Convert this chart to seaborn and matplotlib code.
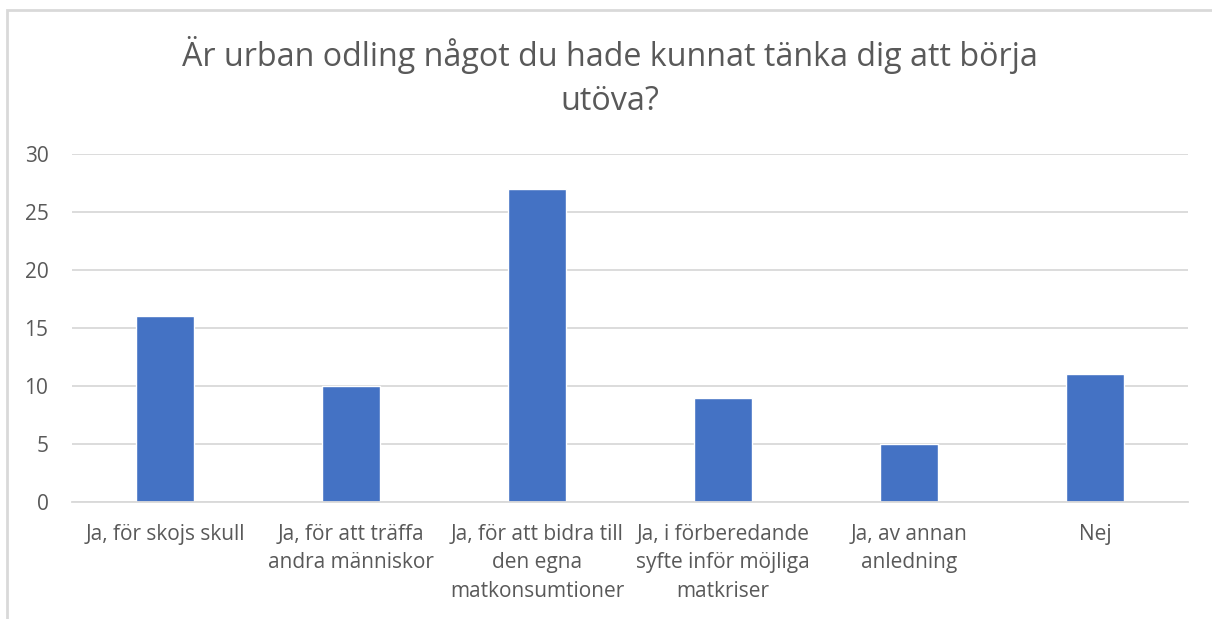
import matplotlib
matplotlib.use("Agg")
import matplotlib.pyplot as plt
import seaborn as sns
import pandas as pd
from matplotlib.patches import Rectangle

categories = [
    "Ja, för skojs skull",
    "Ja, för att träffa\nandra människor",
    "Ja, för att bidra till\nden egna\nmatkonsumtioner",
    "Ja, i förberedande\nsyfte inför möjliga\nmatkriser",
    "Ja, av annan\nanledning",
    "Nej",
]
values = [16, 10, 27, 9, 5, 11]
yticks = [0, 5, 10, 15, 20, 25, 30]
title = "Är urban odling något du hade kunnat tänka dig att börja\nutöva?"

sns.set_theme(style="white")
plt.rcParams["font.family"] = ["Open Sans", "DejaVu Sans"]

df = pd.DataFrame({"cat": categories, "val": values})
fig = plt.figure(figsize=(12.12, 6.19), dpi=100)
ax = fig.add_axes([72 / 1212, 1 - 502 / 619, (1188 - 72) / 1212, (502 - 154) / 619])

sns.barplot(data=df, x="cat", y="val", color="#4472C4", width=0.31, ax=ax, saturation=1)

ax.set_ylim(0, 30)
ax.set_yticks(yticks)
ax.set_xlim(-0.5, len(categories) - 0.5)
ax.yaxis.grid(True, color="#D9D9D9", linewidth=1.3)
ax.set_axisbelow(True)
for s in ["top", "right", "left"]:
    ax.spines[s].set_visible(False)
ax.spines["bottom"].set_color("#D9D9D9")
ax.spines["bottom"].set_linewidth(1.3)
ax.set_xlabel("")
ax.set_ylabel("")
ax.tick_params(axis="y", length=0, pad=17, labelsize=15, labelcolor="#595959")
ax.tick_params(axis="x", length=0, pad=16, labelsize=15, labelcolor="#595959")
for lab in ax.get_xticklabels():
    lab.set_linespacing(1.45)

fig.text(610 / 1212, 1 - 77 / 619, title, ha="center", va="center", fontsize=23.2,
         color="#595959", linespacing=1.45)

fig.add_artist(Rectangle((7 / 1212, -0.1), 1.2, 1 - 9.5 / 619 + 0.1,
                         transform=fig.transFigure, fill=False,
                         edgecolor="#D9D9D9", linewidth=2))

fig.savefig("out.png", dpi=100)
